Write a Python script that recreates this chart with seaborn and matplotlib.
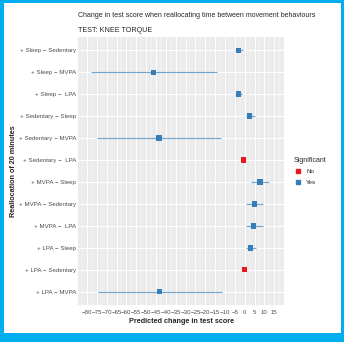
import numpy as np
import pandas as pd
import seaborn as sns
import matplotlib.pyplot as plt
from matplotlib.lines import Line2D
from matplotlib.patches import Rectangle

#%% data
reallocation = ['+ Sleep \u2212 Sedentary', '+ Sleep \u2212 MVPA', '+ Sleep \u2212  LPA',
                '+ Sedentary \u2212 Sleep', '+ Sedentary \u2212 MVPA', '+ Sedentary \u2212  LPA',
                '+ MVPA \u2212 Sleep', '+ MVPA \u2212 Sedentary', '+ MVPA \u2212  LPA',
                '+ LPA \u2212 Sleep', '+ LPA \u2212 Sedentary', '+ LPA \u2212 MVPA']
estimate = [-3.2, -46.3, -3.3, 2.4, -43.5, -0.5, 7.8, 4.8, 4.6, 2.9, 0.0, -43.1]
ci_low   = [-4.9, -78.0, -5.0, 0.7, -75.1, -0.6, 3.1, 0.7, 0.6, 0.7, -0.1, -74.6]
ci_high  = [-0.8, -14.2, -1.3, 5.3, -12.1, -0.4, 12.5, 9.2, 9.2, 5.6, 0.1, -11.6]
significant = ['Yes', 'Yes', 'Yes', 'Yes', 'Yes', 'No', 'Yes', 'Yes', 'Yes', 'Yes', 'No', 'Yes']

df = pd.DataFrame({'reallocation': reallocation, 'estimate': estimate,
                   'lo': ci_low, 'hi': ci_high, 'Significant': significant})
df['ypos'] = np.arange(len(df))

clrs = {'No': '#E41A1C', 'Yes': '#377EB8'}

#%% plot
sns.set_theme(style='darkgrid')
plt.rcParams['font.family'] = ['Liberation Sans', 'DejaVu Sans']

fig = plt.figure(figsize=(3.44, 3.42), dpi=100)
ax = fig.add_axes([0.227, 0.108, 0.599, 0.784])
ax.set_facecolor('#EBEBEB')

for _, row in df.iterrows():
    ax.hlines(row['ypos'], row['lo'], row['hi'], color=clrs[row['Significant']],
              lw=0.8, alpha=0.7, zorder=3)
sns.scatterplot(data=df, x='estimate', y='ypos', hue='Significant', palette=clrs,
                hue_order=['No', 'Yes'], marker='s', s=14, linewidth=0, ax=ax,
                zorder=4, legend=False)

ax.set_xlim(-84.5, 20)
ax.set_ylim(11.6, -0.6)
ax.set_xticks(np.arange(-80, 16, 5))
ax.set_xticks(np.arange(-82.5, 20, 5), minor=True)
ax.set_xticklabels([f'{v:d}'.replace('-', '\u2212') for v in range(-80, 16, 5)])
ax.set_yticks(df['ypos'])
ax.set_yticklabels(df['reallocation'])
ax.grid(which='major', color='white', lw=0.7)
ax.grid(which='minor', axis='x', color='white', lw=0.35)
ax.tick_params(axis='both', which='major', labelsize=4.4, labelcolor='#4D4D4D',
               length=2, width=0.5, color='#333333', pad=1.5)
ax.tick_params(axis='y', which='major', length=1, pad=0.5)
ax.tick_params(which='minor', length=0)
for s in ax.spines.values():
    s.set_visible(False)

ax.set_xlabel('Predicted change in test score', fontsize=5.2, fontweight='bold', labelpad=2)
ax.set_ylabel('Reallocation of 20 minutes', fontsize=5.2, fontweight='bold', labelpad=1)

fig.text(0.227, 0.955, 'Change in test score when reallocating time between movement behaviours',
         fontsize=5.0, ha='left', va='center')
fig.text(0.227, 0.91, 'TEST: KNEE TORQUE', fontsize=5.2, ha='left', va='center')

handles = [Line2D([0], [0], color=clrs[k], marker='s', markersize=2.8, lw=0)
           for k in ['No', 'Yes']]
leg = ax.legend(handles, ['No', 'Yes'], title='Significant', loc='center left',
                bbox_to_anchor=(1.02, 0.5), frameon=False, fontsize=4.5,
                title_fontsize=5, handlelength=1.2, labelspacing=0.8)
leg._legend_box.align = 'left'

# cyan frame around the picture
fr = '#00AEEF'
for r in [(0, 0, 0.012, 1), (0.991, 0, 0.009, 1), (0, 0, 1, 0.026), (0, 0.991, 1, 0.009)]:
    fig.add_artist(Rectangle(r[:2], r[2], r[3], transform=fig.transFigure,
                             color=fr, lw=0, zorder=10))

fig.savefig('out.png', dpi=100)
